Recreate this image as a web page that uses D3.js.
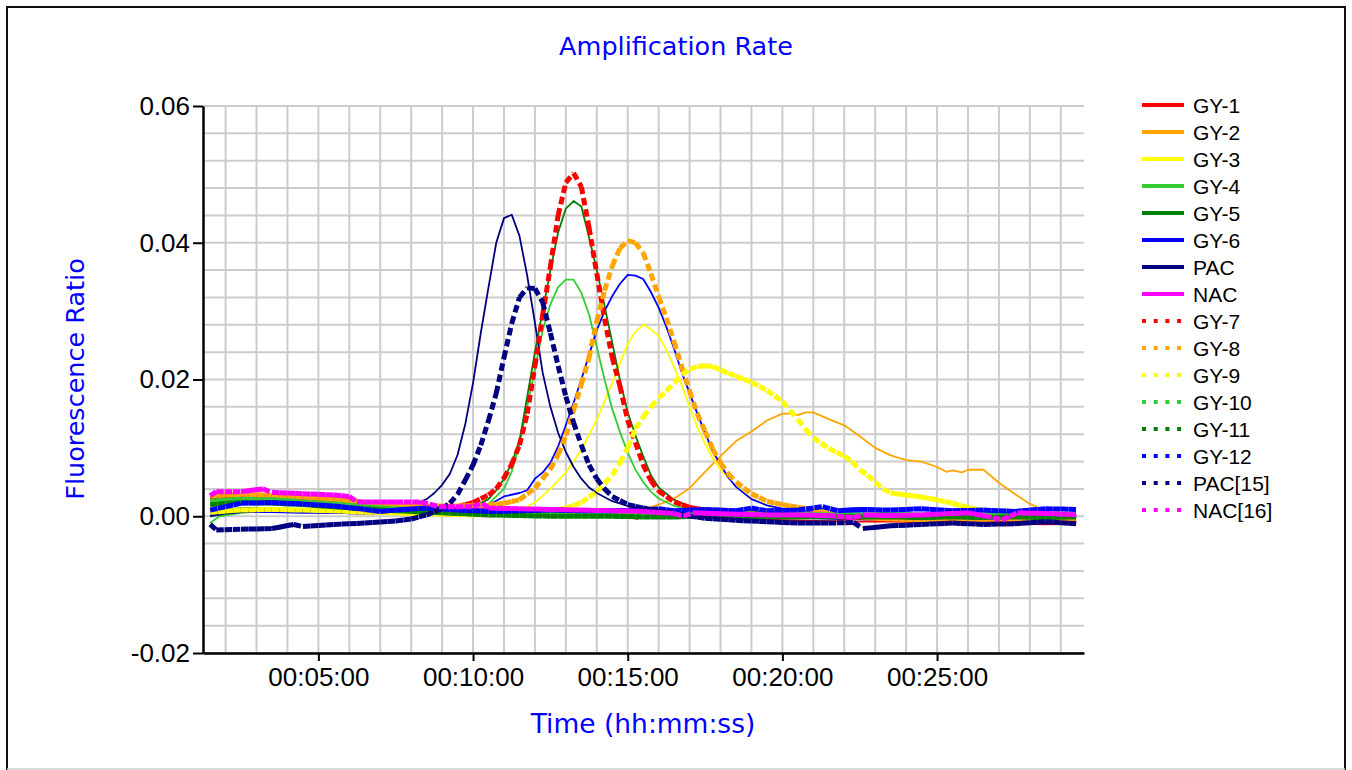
<!DOCTYPE html>
<html>
<head>
<meta charset="utf-8">
<script src="https://cdn.jsdelivr.net/npm/d3@7"></script>
<style>
    body { margin: 0; background: #fff; }
    #chart { width: 1352px; height: 770px; }
</style>
</head>
<body>
<div id="chart"></div>
<script>
// [time in minutes, fluorescence ratio]
var gy1 = [[1.5,0.0005],[2.5,0.0008],[3.5,0.0007],[4.5,0.0006],[5.5,0.0005],[6.5,0.0004],[7.5,0.0003],[8.5,0.0002],[9.5,0.0001],[10.5,0.0000],[11.5,0.0001],[12.5,0.0000],[13.5,0.0002],[14.5,0.0001],[15,-0.0001],[15.3,-0.0004],[15.6,0.0002],[16.5,0.0000],[17.5,-0.0002],[18.5,-0.0004],[19.5,-0.0005],[20.5,-0.0006],[21.5,-0.0007],[22.5,-0.0008],[23.5,-0.0008],[24.5,-0.0009],[25.5,-0.0010],[26.5,-0.0011],[27.5,-0.0011],[28.5,-0.0012],[29.5,-0.0011]];
var gy2 = [[1.5,0.0002],[2,0.0006],[3,0.0008],[4,0.0006],[5,0.0006],[6,0.0005],[7,0.0004],[8,0.0003],[9,0.0003],[10,0.0003],[11,0.0004],[12,0.0005],[13,0.0005],[14,0.0006],[15,0.0008],[15.5,0.0010],[16,0.0017],[16.5,0.0026],[17,0.0041],[17.5,0.0065],[18,0.0088],[18.5,0.0110],[19,0.0124],[19.5,0.0140],[20,0.0150],[20.25,0.0150],[20.5,0.0148],[20.75,0.0152],[21,0.0152],[21.5,0.0142],[22,0.0133],[22.5,0.0117],[23,0.0100],[23.5,0.0089],[24,0.0082],[24.5,0.0080],[25,0.0072],[25.3,0.0065],[25.5,0.0067],[25.8,0.0064],[26,0.0068],[26.5,0.0068],[27,0.0049],[27.5,0.0033],[28,0.0018],[28.3,0.0012],[28.7,0.0012],[29,0.0004],[29.5,0.0002]];
var gy3 = [[1.5,0.0002],[2,0.0005],[3,0.0006],[4,0.0007],[5,0.0006],[6,0.0005],[7,0.0004],[8,0.0002],[9,0.0001],[10,0.0000],[11,0.0002],[11.5,0.0008],[12,0.0020],[12.5,0.0040],[13,0.0064],[13.5,0.0097],[14,0.0141],[14.5,0.0195],[14.75,0.0224],[15,0.0252],[15.25,0.0270],[15.5,0.0280],[15.75,0.0273],[16,0.0264],[16.25,0.0243],[16.5,0.0218],[16.75,0.0191],[17,0.0160],[17.25,0.0130],[17.5,0.0106],[17.75,0.0085],[18,0.0068],[18.5,0.0044],[19,0.0026],[19.5,0.0016],[20,0.0010],[21,0.0005],[22,0.0002],[23,0.0000],[24,-0.0001],[25,-0.0002],[26,-0.0002],[27,-0.0003],[28,-0.0003],[29.5,-0.0004]];
var gy4 = [[1.5,-0.0010],[1.8,0.0000],[2.5,0.0005],[3.5,0.0008],[4.5,0.0007],[5.5,0.0006],[6.5,0.0005],[7.5,0.0004],[8.5,0.0004],[9.5,0.0005],[10,0.0008],[10.5,0.0018],[11,0.0040],[11.25,0.0065],[11.5,0.0105],[11.75,0.0160],[12,0.0215],[12.25,0.0272],[12.5,0.0310],[12.75,0.0335],[13,0.0346],[13.25,0.0346],[13.5,0.0327],[13.75,0.0295],[14,0.0248],[14.25,0.0200],[14.5,0.0157],[14.75,0.0123],[15,0.0093],[15.25,0.0068],[15.5,0.0050],[15.75,0.0036],[16,0.0026],[16.5,0.0015],[17,0.0010],[18,0.0006],[19,0.0004],[20,0.0003],[21,0.0003],[22,0.0002],[23,0.0002],[24,0.0001],[25,0.0001],[26,0.0002],[27,0.0001],[28,0.0000],[29.5,0.0000]];
var gy5 = [[1.5,0.0008],[2.5,0.0012],[3.5,0.0012],[4.5,0.0010],[5.5,0.0009],[6.5,0.0008],[7.5,0.0007],[8.5,0.0006],[9.5,0.0008],[10,0.0013],[10.5,0.0025],[10.75,0.0038],[11,0.0055],[11.25,0.0078],[11.5,0.0110],[11.75,0.0175],[12,0.0240],[12.25,0.0300],[12.5,0.0360],[12.75,0.0415],[13,0.0450],[13.25,0.0461],[13.5,0.0453],[13.75,0.0408],[14,0.0360],[14.25,0.0308],[14.5,0.0254],[14.75,0.0199],[15,0.0152],[15.25,0.0118],[15.5,0.0088],[15.75,0.0060],[16,0.0042],[16.5,0.0024],[17,0.0014],[17.5,0.0009],[18.5,0.0005],[19.5,0.0003],[20.5,0.0002],[21.5,0.0001],[22.5,0.0001],[23.5,0.0000],[24.5,0.0000],[25.5,-0.0001],[26.5,-0.0001],[27.5,-0.0002],[28.5,-0.0002],[29.5,-0.0002]];
var gy6 = [[1.5,0.0003],[2.5,0.0006],[3.5,0.0006],[4.5,0.0005],[5.5,0.0005],[6.5,0.0004],[7.5,0.0004],[8.5,0.0005],[9.5,0.0007],[10,0.0009],[10.5,0.0016],[11,0.0029],[11.5,0.0034],[11.75,0.0038],[12,0.0055],[12.25,0.0064],[12.5,0.0078],[12.75,0.0102],[13,0.0133],[13.25,0.0166],[13.5,0.0200],[13.75,0.0236],[14,0.0272],[14.25,0.0300],[14.5,0.0322],[14.75,0.0340],[15,0.0353],[15.25,0.0352],[15.5,0.0347],[15.75,0.0328],[16,0.0305],[16.25,0.0277],[16.5,0.0245],[16.75,0.0210],[17,0.0180],[17.25,0.0150],[17.5,0.0122],[17.75,0.0095],[18,0.0075],[18.25,0.0057],[18.5,0.0043],[19,0.0025],[19.5,0.0016],[20,0.0011],[21,0.0007],[22,0.0005],[23,0.0004],[24,0.0003],[25,0.0003],[26,0.0002],[27,0.0002],[28,0.0002],[29.5,0.0002]];
var pac = [[1.5,0.0000],[2,0.0004],[2.5,0.0006],[3,0.0008],[4,0.0009],[5,0.0009],[6,0.0008],[7,0.0009],[7.5,0.0010],[8,0.0015],[8.5,0.0025],[8.75,0.0034],[9,0.0046],[9.25,0.0062],[9.5,0.0090],[9.75,0.0135],[10,0.0195],[10.25,0.0268],[10.5,0.0335],[10.75,0.0400],[11,0.0436],[11.25,0.0441],[11.5,0.0410],[11.75,0.0352],[12,0.0283],[12.25,0.0210],[12.5,0.0160],[12.75,0.0122],[13,0.0094],[13.25,0.0072],[13.5,0.0055],[13.75,0.0042],[14,0.0034],[14.5,0.0022],[15,0.0015],[15.5,0.0011],[16,0.0008],[17,0.0005],[18,0.0002],[19,0.0000],[20,-0.0002],[21,-0.0003],[22,-0.0004],[23,-0.0005],[24,-0.0006],[25,-0.0006],[26,-0.0007],[27,-0.0007],[28,-0.0008],[29.5,-0.0008]];
var nac = [[1.5,0.0025],[2,0.0030],[3,0.0032],[4,0.0030],[5,0.0028],[6,0.0025],[7,0.0019],[8,0.0017],[9,0.0013],[10,0.0012],[11,0.0011],[12,0.0010],[13,0.0008],[14,0.0007],[15,0.0006],[16,0.0005],[17,0.0004],[18,0.0004],[19,0.0003],[20,0.0003],[21,0.0002],[22,0.0002],[23,0.0002],[24,0.0001],[25,0.0001],[26,0.0001],[27,0.0000],[28,0.0000],[29.5,0.0000]];
var gy7 = [[1.5,0.0026],[2.5,0.0028],[3.5,0.0027],[4.5,0.0025],[5.5,0.0022],[6.5,0.0018],[7.5,0.0015],[8.5,0.0013],[9.5,0.0014],[10,0.0020],[10.5,0.0031],[10.75,0.0040],[11,0.0056],[11.25,0.0076],[11.5,0.0104],[11.75,0.0150],[12,0.0220],[12.25,0.0294],[12.5,0.0365],[12.75,0.0440],[13,0.0488],[13.25,0.0502],[13.5,0.0482],[13.75,0.0422],[14,0.0355],[14.25,0.0289],[14.5,0.0232],[14.75,0.0190],[15,0.0140],[15.25,0.0108],[15.5,0.0075],[15.75,0.0052],[16,0.0037],[16.5,0.0021],[17,0.0013],[17.5,0.0009],[18.5,0.0006],[19.5,0.0004],[20.5,0.0002],[21.5,0.0000],[22.5,-0.0002],[23.5,-0.0003],[24.5,-0.0004],[25.5,-0.0005],[26.5,-0.0006],[27.5,-0.0006],[28.5,-0.0007],[29.5,-0.0007]];
var gy8 = [[1.5,0.0030],[2.5,0.0032],[3.5,0.0031],[4.5,0.0028],[5.5,0.0025],[6.5,0.0020],[7.5,0.0017],[8.5,0.0015],[9.5,0.0015],[10.5,0.0016],[11,0.0019],[11.5,0.0024],[12,0.0041],[12.5,0.0069],[12.75,0.0090],[13,0.0118],[13.25,0.0155],[13.5,0.0193],[13.75,0.0232],[14,0.0285],[14.25,0.0330],[14.5,0.0366],[14.75,0.0392],[15,0.0403],[15.25,0.0400],[15.5,0.0385],[15.75,0.0355],[16,0.0321],[16.25,0.0290],[16.5,0.0255],[16.75,0.0218],[17,0.0183],[17.25,0.0150],[17.5,0.0124],[17.75,0.0098],[18,0.0078],[18.25,0.0062],[18.5,0.0050],[19,0.0033],[19.5,0.0022],[20,0.0017],[20.5,0.0013],[21,0.0010],[22,0.0002],[23,-0.0003],[24,-0.0005],[25,-0.0005],[26,-0.0005],[27,-0.0004],[28,-0.0004],[29.5,-0.0003]];
var gy9 = [[1.5,0.0006],[2.5,0.0009],[3.5,0.0010],[4.5,0.0009],[5.5,0.0008],[6.5,0.0006],[7.5,0.0005],[8.5,0.0004],[9.5,0.0003],[10.5,0.0003],[11.5,0.0004],[12.5,0.0008],[13,0.0012],[13.5,0.0020],[14,0.0036],[14.5,0.0060],[14.75,0.0078],[15,0.0100],[15.25,0.0128],[15.5,0.0145],[15.75,0.0160],[16,0.0173],[16.25,0.0183],[16.5,0.0195],[16.75,0.0207],[17,0.0215],[17.25,0.0219],[17.5,0.0220],[17.75,0.0219],[18,0.0214],[18.5,0.0205],[19,0.0196],[19.5,0.0184],[20,0.0168],[20.25,0.0155],[20.5,0.0142],[20.75,0.0127],[21,0.0115],[21.5,0.0099],[22,0.0088],[22.25,0.0080],[22.5,0.0068],[22.75,0.0060],[23,0.0050],[23.25,0.0040],[23.5,0.0034],[24,0.0031],[24.5,0.0028],[25,0.0024],[25.5,0.0019],[26,0.0013],[26.5,0.0008],[27,0.0004],[28,0.0002],[29.5,0.0002]];
var gy10 = [[1.5,0.0022],[2.5,0.0025],[3.5,0.0024],[4.5,0.0021],[5.5,0.0018],[6.5,0.0014],[7.5,0.0011],[8.5,0.0009],[9.5,0.0007],[10.5,0.0006],[11.5,0.0005],[12.5,0.0004],[13.5,0.0004],[14.5,0.0003],[15.5,0.0003],[16.5,0.0003],[17.5,0.0003],[18.5,0.0004],[19.5,0.0003],[20.5,0.0003],[21.5,0.0002],[22.5,0.0002],[23.5,0.0003],[24.5,0.0002],[25.5,0.0002],[26.3,0.0006],[27,0.0002],[28,0.0003],[29.5,0.0002]];
var gy11 = [[1.5,0.0017],[2.5,0.0020],[3.5,0.0019],[4.5,0.0017],[5.5,0.0014],[6.5,0.0011],[7.5,0.0008],[8.5,0.0006],[9.5,0.0004],[10.5,0.0002],[11.5,0.0001],[12.5,0.0000],[13.5,0.0000],[14.5,0.0000],[15.5,-0.0001],[16.5,-0.0001],[17.5,0.0000],[18.5,0.0000],[19.5,-0.0001],[20.5,-0.0001],[21.5,0.0000],[22.5,-0.0001],[23.5,-0.0001],[24.5,-0.0002],[25.5,-0.0001],[26.5,-0.0002],[27.5,-0.0001],[28.5,-0.0002],[29.5,-0.0001]];
var gy12 = [[1.5,0.0009],[2,0.0014],[2.5,0.0019],[3.5,0.0020],[4.5,0.0018],[5.5,0.0015],[6.5,0.0010],[7,0.0007],[7.5,0.0009],[8.5,0.0012],[9.5,0.0009],[10.5,0.0007],[11.5,0.0008],[12.5,0.0009],[13.5,0.0008],[14.5,0.0008],[15.5,0.0009],[16,0.0011],[16.5,0.0008],[17.5,0.0010],[18.5,0.0008],[19,0.0012],[19.5,0.0008],[20.5,0.0009],[21.3,0.0014],[21.8,0.0008],[22.5,0.0010],[23.5,0.0009],[24.5,0.0011],[25.5,0.0008],[26.5,0.0009],[27.5,0.0007],[28.5,0.0011],[29.5,0.0010]];
var pac15 = [[1.5,-0.0012],[1.7,-0.0020],[2.5,-0.0019],[3.5,-0.0018],[4.2,-0.0012],[4.5,-0.0015],[5.5,-0.0012],[6.5,-0.0010],[7.5,-0.0007],[8,-0.0004],[8.5,0.0002],[9,0.0011],[9.25,0.0019],[9.5,0.0032],[9.75,0.0053],[10,0.0075],[10.25,0.0104],[10.5,0.0140],[10.75,0.0180],[11,0.0232],[11.25,0.0282],[11.5,0.0320],[11.75,0.0334],[12,0.0333],[12.25,0.0313],[12.5,0.0268],[12.75,0.0220],[13,0.0175],[13.25,0.0137],[13.5,0.0104],[13.75,0.0075],[14,0.0055],[14.25,0.0040],[14.5,0.0029],[15,0.0017],[15.5,0.0012],[16,0.0008],[16.5,0.0004],[17.5,-0.0003],[18.5,-0.0006],[19.5,-0.0008],[20.5,-0.0010],[21.5,-0.0010],[22.3,-0.0009],[22.6,-0.0018],[23.5,-0.0014],[24.5,-0.0012],[25.5,-0.0010],[26.5,-0.0012],[27.5,-0.0011],[28.5,-0.0008],[29.5,-0.0011]];
var nac16 = [[1.5,0.0030],[1.7,0.0036],[2.5,0.0036],[3.2,0.0040],[3.5,0.0035],[4.5,0.0033],[5.5,0.0031],[6,0.0029],[6.25,0.0021],[7.5,0.0021],[8.3,0.0021],[8.9,0.0014],[10,0.0014],[10.3,0.0019],[10.5,0.0012],[11.5,0.0011],[12.5,0.0010],[13.5,0.0009],[14.5,0.0008],[15.5,0.0007],[16.5,0.0004],[16.8,0.0000],[17.1,0.0005],[18.5,0.0003],[19.5,0.0002],[20.5,0.0002],[21.5,0.0001],[22.3,-0.0002],[22.6,0.0002],[23.5,0.0001],[24.5,0.0002],[25.5,0.0004],[26,0.0005],[26.5,0.0001],[27.1,-0.0005],[27.6,0.0005],[28.5,0.0004],[29.5,0.0002]];

var seriesNames = ["GY-1", "GY-2", "GY-3", "GY-4", "GY-5", "GY-6", "PAC", "NAC",
    "GY-7", "GY-8", "GY-9", "GY-10", "GY-11", "GY-12", "PAC[15]", "NAC[16]"];
var seriesData = [gy1, gy2, gy3, gy4, gy5, gy6, pac, nac,
    gy7, gy8, gy9, gy10, gy11, gy12, pac15, nac16];
var baseColors = ["#ff0000", "#ffa500", "#ffff00", "#32cd32", "#008000", "#0000ff", "#000080", "#ff00ff"];

var xTicks = [5, 10, 15, 20, 25];
var yTicks = [-0.02, 0.00, 0.02, 0.04, 0.06];

AmpChart = function(_parentElement) {
    this.parentElement = _parentElement;
    this.initVis();
};

AmpChart.prototype.initVis = function() {
    var vis = this;

    vis.width = 1352;
    vis.height = 770;
    vis.plot = {left: 203, right: 1084, top: 106, bottom: 653};

    vis.svg = d3.select("#" + vis.parentElement).append("svg")
        .attr("width", vis.width)
        .attr("height", vis.height);

    // outer frame
    vis.svg.append("path")
        .attr("d", "M7,780V7H1345V780")
        .attr("fill", "none")
        .attr("stroke", "#111")
        .attr("stroke-width", 2);
    vis.svg.append("line")
        .attr("x1", 7).attr("x2", 1345)
        .attr("y1", 769).attr("y2", 769)
        .attr("stroke", "#d0d0d0")
        .attr("stroke-width", 1.5);

    vis.x = d3.scaleLinear().domain([1.27, 29.75]).range([vis.plot.left, vis.plot.right]);
    vis.y = d3.scaleLinear().domain([-0.02, 0.06]).range([vis.plot.bottom, vis.plot.top]);

    // grid
    var grid = vis.svg.append("g").attr("stroke", "#cccccc").attr("stroke-width", 2);
    grid.selectAll(".hgrid")
        .data(d3.range(0, 21).map(function(i) { return -0.02 + i * 0.004; }))
        .enter().append("line")
        .attr("x1", vis.plot.left).attr("x2", vis.plot.right)
        .attr("y1", function(d) { return vis.y(d); })
        .attr("y2", function(d) { return vis.y(d); });
    grid.selectAll(".vgrid")
        .data(d3.range(2, 30))
        .enter().append("line")
        .attr("y1", vis.plot.top).attr("y2", vis.plot.bottom)
        .attr("x1", function(d) { return vis.x(d); })
        .attr("x2", function(d) { return vis.x(d); });

    // series
    var line = d3.line()
        .x(function(d) { return vis.x(d[0]); })
        .y(function(d) { return vis.y(d[1]); });

    seriesData.forEach(function(data, i) {
        var color = baseColors[i % 8];
        if (i < 8) {
            vis.svg.append("path")
                .attr("d", line(data))
                .attr("fill", "none")
                .attr("stroke", color)
                .attr("stroke-width", 1.8)
                .attr("stroke-linejoin", "round");
        } else {
            // dotted series: the dash restarts on every short piece, so flat parts look solid
            vis.svg.append("path")
                .attr("d", vis.piecePath(data))
                .attr("fill", "none")
                .attr("stroke", color)
                .attr("stroke-width", 5)
                .attr("stroke-dasharray", "7.5,4");
        }
    });

    // axes
    var yAxis = d3.axisLeft(vis.y)
        .tickValues(yTicks)
        .tickFormat(function(d) { return d3.format(".2f")(d).replace("\u2212", "-"); })
        .tickSize(10)
        .tickSizeOuter(0)
        .tickPadding(3);
    var gy = vis.svg.append("g")
        .attr("transform", "translate(" + vis.plot.left + ",0)")
        .call(yAxis);

    var xAxis = d3.axisBottom(vis.x)
        .tickValues(xTicks)
        .tickFormat(function(d) { return "00:" + d3.format("02d")(d) + ":00"; })
        .tickSize(8)
        .tickSizeOuter(0)
        .tickPadding(7);
    var gx = vis.svg.append("g")
        .attr("transform", "translate(0," + vis.plot.bottom + ")")
        .call(xAxis);

    [gx, gy].forEach(function(g) {
        g.select(".domain").attr("stroke", "#000").attr("stroke-width", 2.5);
        g.selectAll(".tick line").attr("stroke", "#000").attr("stroke-width", 2);
        g.selectAll(".tick text")
            .attr("fill", "#000")
            .style("font-family", "'Liberation Sans', Arial, sans-serif")
            .style("font-size", "26px");
    });

    // titles
    vis.svg.append("text")
        .attr("x", 676).attr("y", 55)
        .attr("text-anchor", "middle")
        .attr("fill", "#0000ff")
        .style("font-family", "'DejaVu Sans', Verdana, sans-serif")
        .style("font-size", "25.5px")
        .text("Amplification Rate");

    vis.svg.append("text")
        .attr("x", 643).attr("y", 733)
        .attr("text-anchor", "middle")
        .attr("fill", "#0000ff")
        .style("font-family", "'DejaVu Sans', Verdana, sans-serif")
        .style("font-size", "26.5px")
        .text("Time (hh:mm:ss)");

    vis.svg.append("text")
        .attr("transform", "translate(84,379) rotate(-90)")
        .attr("text-anchor", "middle")
        .attr("fill", "#0000ff")
        .style("font-family", "'DejaVu Sans', Verdana, sans-serif")
        .style("font-size", "25.5px")
        .text("Fluorescence Ratio");

    // legend
    var legend = vis.svg.selectAll(".legend")
        .data(seriesNames)
        .enter().append("g")
        .attr("class", "legend")
        .attr("transform", function(d, i) { return "translate(1142," + (105 + i * 27) + ")"; });

    legend.append("line")
        .attr("x1", 0).attr("x2", function(d, i) { return i < 8 ? 42 : 41; })
        .attr("y1", 0).attr("y2", 0)
        .attr("stroke", function(d, i) { return baseColors[i % 8]; })
        .attr("stroke-width", 4)
        .attr("stroke-dasharray", function(d, i) { return i < 8 ? null : "4,7.7"; });

    legend.append("text")
        .attr("x", 51).attr("y", 7.5)
        .attr("fill", "#000")
        .style("font-family", "'Liberation Sans', Arial, sans-serif")
        .style("font-size", "21px")
        .text(function(d) { return d; });
};

// builds one subpath per ~8px so the dash pattern starts again on each piece
AmpChart.prototype.piecePath = function(data) {
    var vis = this;
    var d = "";
    for (var i = 0; i < data.length - 1; i++) {
        var x0 = vis.x(data[i][0]), y0 = vis.y(data[i][1]);
        var x1 = vis.x(data[i + 1][0]), y1 = vis.y(data[i + 1][1]);
        var n = Math.max(1, Math.round((x1 - x0) / 7.7));
        for (var k = 0; k < n; k++) {
            var a = k / n, b = (k + 1) / n;
            d += "M" + (x0 + (x1 - x0) * a) + "," + (y0 + (y1 - y0) * a) +
                "L" + (x0 + (x1 - x0) * b) + "," + (y0 + (y1 - y0) * b);
        }
    }
    return d;
};

var chart = new AmpChart("chart");
</script>
</body>
</html>
